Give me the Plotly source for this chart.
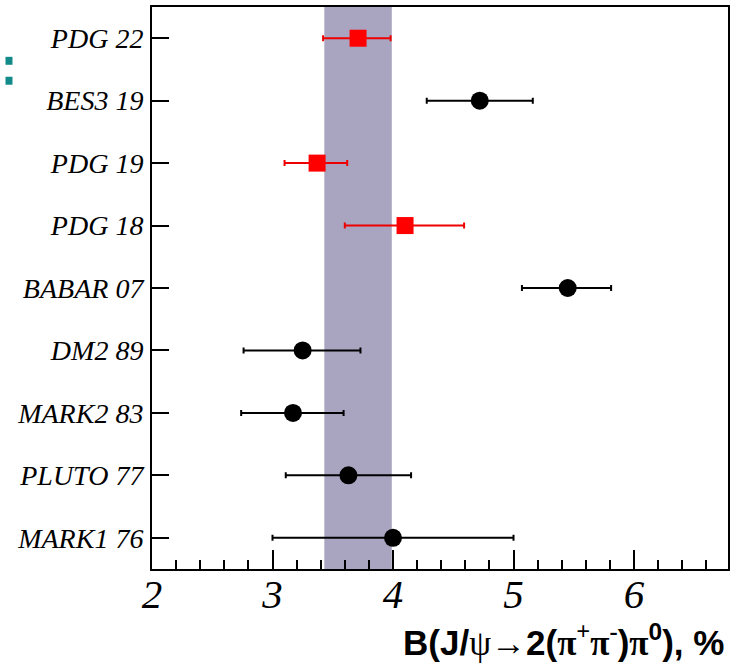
import plotly.graph_objects as go

# Data (top to bottom as in the picture)
labels = ["PDG 22", "BES3 19", "PDG 19", "PDG 18", "BABAR 07", "DM2 89", "MARK2 83", "PLUTO 77", "MARK1 76"]
values = [3.71, 4.72, 3.37, 4.10, 5.45, 3.25, 3.17, 3.63, 4.00]
err_minus = [0.29, 0.44, 0.27, 0.50, 0.38, 0.49, 0.43, 0.52, 1.00]
err_plus = [0.27, 0.44, 0.25, 0.49, 0.36, 0.48, 0.42, 0.52, 1.00]
is_pdg = [True, False, True, True, False, False, False, False, False]
band = [3.43, 3.99]
xticks = [2, 3, 4, 5, 6]

def subset(flag):
    idx = [i for i in range(len(labels)) if is_pdg[i] == flag]
    return ([values[i] for i in idx], [labels[i] for i in idx],
            [err_plus[i] for i in idx], [err_minus[i] for i in idx])

fig = go.Figure()

x, y, ep, em = subset(False)
fig.add_trace(go.Scatter(
    x=x, y=y, mode="markers",
    marker=dict(symbol="circle", size=18, color="black"),
    error_x=dict(type="data", symmetric=False, array=ep, arrayminus=em,
                 color="black", thickness=2, width=3),
    showlegend=False))

x, y, ep, em = subset(True)
fig.add_trace(go.Scatter(
    x=x, y=y, mode="markers",
    marker=dict(symbol="square", size=17, color="#ff0000"),
    error_x=dict(type="data", symmetric=False, array=ep, arrayminus=em,
                 color="#ee0000", thickness=2, width=3),
    showlegend=False))

fig.add_shape(type="rect", xref="x", yref="paper", x0=band[0], x1=band[1], y0=0, y1=1,
              fillcolor="#a9a5c0", line=dict(width=0), layer="below")

# small teal marks at left edge (paper coords; plot area x 152..730, y 5..569)
for py0, py1 in [(55, 63), (75, 83)]:
    fig.add_shape(type="rect", xref="paper", yref="paper",
                  x0=(5 - 152) / 578, x1=(12 - 152) / 578,
                  y0=(569 - py1) / 564, y1=(569 - py0) / 564,
                  fillcolor="#128a8a", line=dict(width=0))

thin = "<span style='font-family:Liberation Serif;font-weight:normal'>"
bserif = "<span style='font-family:Liberation Serif'>"
fig.add_annotation(
    text="B(J/" + thin + "ψ→</span>2(" + bserif + "π<sup>+</sup>π<sup>-</sup></span>)"
         + bserif + "π</span><sup>0</sup>), %",
    xref="paper", yref="paper", x=(728 - 152) / 578, y=(569 - 641) / 564,
    xanchor="right", yanchor="middle",
    showarrow=False, font=dict(family="Liberation Sans", size=35, color="black", weight="bold"))

fig.update_xaxes(
    range=[2, 6.78], tickvals=xticks, ticktext=[str(t) for t in xticks],
    ticks="inside", ticklen=19, tickwidth=2, tickcolor="black",
    minor=dict(dtick=0.2, tick0=2, ticks="inside", ticklen=9, tickwidth=2, tickcolor="black"),
    showline=True, linewidth=2, linecolor="black", mirror=True,
    showgrid=False, zeroline=False,
    tickfont=dict(family="Liberation Serif", size=41, color="black", style="italic"),
    ticklabelstandoff=-12)

fig.update_yaxes(
    type="category", categoryorder="array", categoryarray=labels[::-1],
    range=[-0.5, 8.5],
    ticks="inside", ticklen=17, tickwidth=2, tickcolor="black",
    showline=True, linewidth=2, linecolor="black", mirror=True,
    showgrid=False, zeroline=False,
    tickfont=dict(family="Liberation Serif", size=28, color="black", style="italic"),
    ticklabelstandoff=1)

fig.update_layout(
    width=735, height=669,
    margin=dict(l=152, r=5, t=5, b=100),
    plot_bgcolor="white", paper_bgcolor="white")

fig.write_html("out.html", config={"displayModeBar": False},
               post_script="document.body.style.margin='0';")
